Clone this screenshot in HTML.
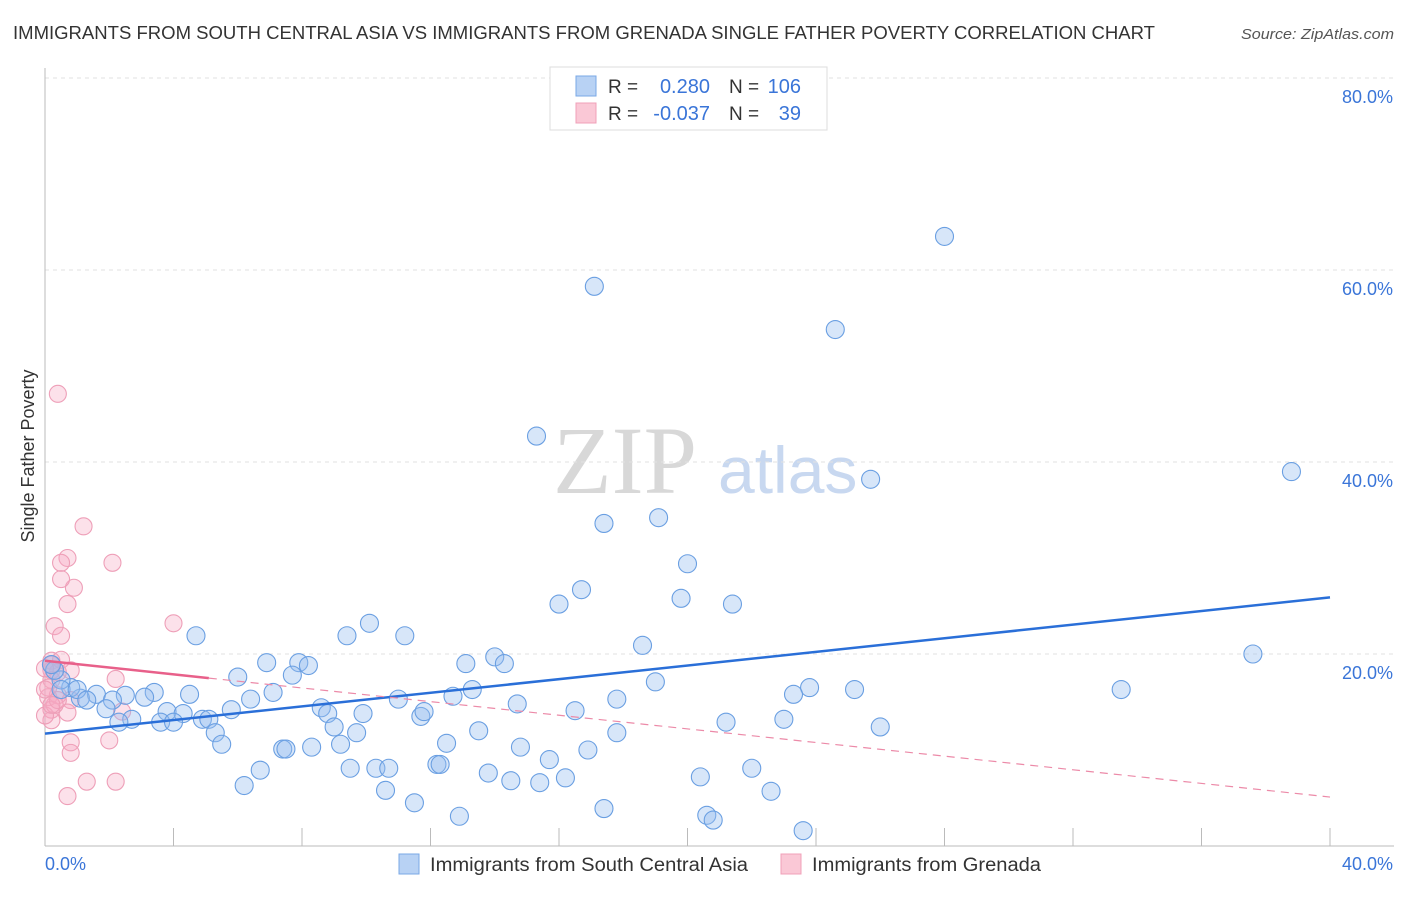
<!DOCTYPE html>
<html><head><meta charset="utf-8"><style>
body{margin:0;background:#fff;font-family:"Liberation Sans",sans-serif;}
</style></head><body>
<svg id="chart" width="1406" height="892" xmlns="http://www.w3.org/2000/svg" font-family="Liberation Sans, sans-serif">
<text x="13" y="39" font-size="18" fill="#333" textLength="1142" lengthAdjust="spacingAndGlyphs">IMMIGRANTS FROM SOUTH CENTRAL ASIA VS IMMIGRANTS FROM GRENADA SINGLE FATHER POVERTY CORRELATION CHART</text>
<text x="1241" y="39" font-size="15" fill="#555" font-style="italic" textLength="153" lengthAdjust="spacingAndGlyphs">Source: ZipAtlas.com</text>
<g>
<text x="553" y="493" font-family="Liberation Serif, serif" font-size="96" fill="#d8d8d8">ZIP</text>
<text x="718" y="493" font-size="66" fill="#c8d8f0">atlas</text>
</g>
<text transform="translate(34,456) rotate(-90)" font-size="18" fill="#333" text-anchor="middle">Single Father Poverty</text>
<g id="grid"></g><g id="axes"></g><g id="pts"></g><g id="trend"></g>
<g>
<rect x="550" y="67" width="277" height="63" fill="#fff" stroke="#ddd"/>
<rect x="576" y="76" width="20" height="20" fill="#b8d2f4" stroke="#7aa8e6"/>
<rect x="576" y="103" width="20" height="20" fill="#fac8d6" stroke="#f0a0b8"/>
<text x="608" y="93" font-size="19" fill="#333">R =</text>
<text x="710" y="93" font-size="20" fill="#3a75d8" text-anchor="end">0.280</text>
<text x="729" y="93" font-size="19" fill="#333">N =</text>
<text x="801" y="93" font-size="20" fill="#3a75d8" text-anchor="end">106</text>
<text x="608" y="120" font-size="19" fill="#333">R =</text>
<text x="710" y="120" font-size="20" fill="#3a75d8" text-anchor="end">-0.037</text>
<text x="729" y="120" font-size="19" fill="#333">N =</text>
<text x="801" y="120" font-size="20" fill="#3a75d8" text-anchor="end">39</text>
</g>
<g>
<rect x="399" y="854" width="20" height="20" fill="#b8d2f4" stroke="#7aa8e6"/>
<text x="430" y="871" font-size="19" fill="#333" textLength="318" lengthAdjust="spacingAndGlyphs">Immigrants from South Central Asia</text>
<rect x="781" y="854" width="20" height="20" fill="#fac8d6" stroke="#f0a0b8"/>
<text x="812" y="871" font-size="19" fill="#333" textLength="229" lengthAdjust="spacingAndGlyphs">Immigrants from Grenada</text>
</g>
</svg>
<script>
const blueX=[28.0,17.1,24.6,15.3,25.7,38.8,17.4,19.1,20.0,16.7,16.0,19.8,21.4,10.1,4.7,9.4,11.2,18.6,37.6,6.9,7.9,8.2,13.1,14.0,14.3,6.0,7.7,19.0,33.5,25.2,23.8,23.3,13.3,3.4,2.5,1.6,4.5,7.1,3.1,2.1,6.4,11.0,12.7,17.8,14.7,8.6,8.8,5.8,3.8,4.3,9.9,16.5,11.7,11.8,1.9,1.1,0.8,0.5,0.3,0.2,0.5,1.0,1.3,2.7,2.3,3.6,4.0,4.9,5.1,9.0,13.5,9.7,17.8,21.2,23.0,26.0,5.3,5.5,7.4,7.5,8.3,9.2,12.5,14.8,16.9,15.7,12.2,12.3,6.7,9.5,10.3,10.7,13.8,22.0,6.2,10.6,14.5,15.4,16.2,20.4,22.6,11.5,17.4,20.6,20.8,12.9,23.6];
const blueY=[63.5,58.3,53.8,42.7,38.2,39.0,33.6,34.2,29.4,26.7,25.2,25.8,25.2,23.2,21.9,21.9,21.9,20.9,20.0,19.1,19.1,18.8,19.0,19.7,19.0,17.6,17.8,17.1,16.3,16.3,16.5,15.8,16.3,16.0,15.7,15.8,15.8,16.0,15.5,15.2,15.3,15.3,15.6,15.3,14.8,14.4,13.8,14.2,14.0,13.8,13.8,14.1,13.5,14.0,14.3,15.4,16.5,17.3,18.3,18.9,16.3,16.3,15.2,13.2,12.9,12.9,12.9,13.2,13.2,12.4,12.0,11.8,11.8,12.9,13.2,12.4,11.8,10.6,10.1,10.1,10.3,10.6,10.7,10.3,10.0,9.0,8.5,8.5,7.9,8.1,8.1,8.1,7.6,8.1,6.3,5.8,6.8,6.6,7.1,7.2,5.7,4.5,3.9,3.2,2.7,3.1,1.6];
const pinkX=[0.4,1.2,0.7,2.1,0.5,0.9,0.5,0.7,4.0,0.3,0.5,0.2,0.2,0.4,2.2,0.2,0.8,0.1,0.7,0.2,0.4,2.0,0.8,0.8,1.3,2.2,0.7,0.2,0.0,0.3,0.1,0.5,0.2,0.0,0.0,0.8,0.4,0.2,2.4];
const pinkY=[47.1,33.3,30.0,29.5,29.5,26.9,27.8,25.2,23.2,22.9,21.9,19.3,18.3,18.1,17.4,17.3,15.2,15.5,13.9,14.2,15.7,11.0,10.8,9.7,6.7,6.7,5.2,13.1,13.6,14.7,16.5,19.4,18.9,18.5,16.3,18.3,15.2,14.7,14.0];
const blueTrend=[11.7,25.9];   // y at x=0, x=40
const pinkTrend=[19.3,5.1];
const pinkSolidEnd=5.1;
const yTicks=[20,40,60,80];
const yTickLabels=["20.0%","40.0%","60.0%","80.0%"];
const xTicks=[0,4,8,12,16,20,24,28,32,36,40];

const NS="http://www.w3.org/2000/svg";
const X0=45,X1=1330,Y0=846,PXY=9.6;
const sx=v=>X0+(X1-X0)*v/40;
const sy=v=>Y0-v*PXY;
function mk(tag,attrs,parent){const e=document.createElementNS(NS,tag);for(const k in attrs)e.setAttribute(k,attrs[k]);parent.appendChild(e);return e;}
const grid=document.getElementById('grid'),axes=document.getElementById('axes'),pts=document.getElementById('pts'),tr=document.getElementById('trend');
yTicks.forEach((t,i)=>{
  const l=mk('line',{x1:X0,x2:1394,y1:sy(t),y2:sy(t),stroke:'#e2e2e2','stroke-dasharray':'4,4'},grid);
  
  
  const tx=mk('text',{x:1393,y:sy(t)+25,'font-size':18,fill:'#3a75d8','text-anchor':'end'},axes);
  tx.textContent=yTickLabels[i];
  
  
});
const ya=mk('line',{x1:X0,x2:X0,y1:68,y2:Y0,stroke:'#bbb'},axes);


const xa=mk('line',{x1:X0,x2:1394,y1:Y0,y2:Y0,stroke:'#bbb'},axes);


xTicks.forEach(t=>{
  const l=mk('line',{x1:sx(t),x2:sx(t),y1:828,y2:Y0,stroke:'#bbb'},axes);
  
  
});
const xl0=mk('text',{x:45,y:870,'font-size':18,fill:'#3a75d8'},axes);xl0.textContent='0.0%';


const xl1=mk('text',{x:1393,y:870,'font-size':18,fill:'#3a75d8','text-anchor':'end'},axes);xl1.textContent='40.0%';


pinkX.forEach((v,i)=>{
  const c=mk('circle',{cx:sx(v),cy:sy(pinkY[i]),r:8.5,fill:'rgba(246,170,195,0.35)',stroke:'#ee9fb8','stroke-width':1.1},pts);
  
  
});
blueX.forEach((v,i)=>{
  const c=mk('circle',{cx:sx(v),cy:sy(blueY[i]),r:9,fill:'rgba(150,190,240,0.38)',stroke:'#6a9fe2','stroke-width':1.1},pts);
  
  
});
const pAt=x=>pinkTrend[0]+(pinkTrend[1]-pinkTrend[0])*x/40;
const bt=mk('line',{x1:sx(0),y1:sy(blueTrend[0]),x2:sx(40),y2:sy(blueTrend[1]),stroke:'#2a6fd8','stroke-width':2.5},tr);


const ps=mk('line',{x1:sx(0),y1:sy(pinkTrend[0]),x2:sx(pinkSolidEnd),y2:sy(pAt(pinkSolidEnd)),stroke:'#e8608a','stroke-width':2.5},tr);


const pd=mk('line',{x1:sx(pinkSolidEnd),y1:sy(pAt(pinkSolidEnd)),x2:sx(40),y2:sy(pinkTrend[1]),stroke:'#ec8aa8','stroke-width':1.2,'stroke-dasharray':'8,6'},tr);


</script>
</body></html>
